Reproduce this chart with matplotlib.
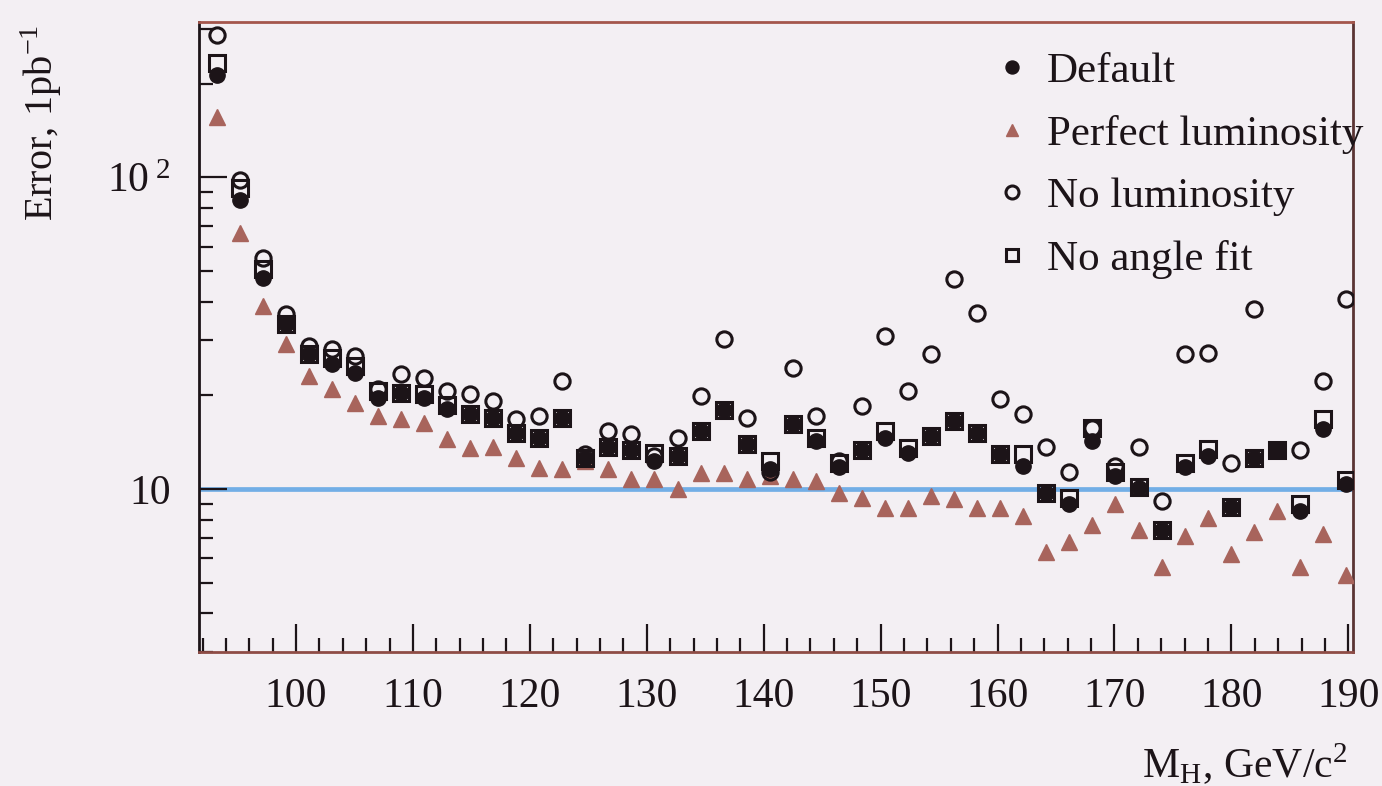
import matplotlib
matplotlib.use("Agg")
import matplotlib.pyplot as plt
import numpy as np

plt.rcParams['font.family'] = ['Liberation Serif', 'DejaVu Serif']
plt.rcParams['mathtext.fontset'] = 'stix'

# Higgs mass points (50 columns)
masses = np.linspace(93.2, 189.8, 50)

default = [213, 84.4, 47.7, 34.0, 27.2, 25.2, 23.6, 19.6, 20.4, 19.6,
           18.1, 17.5, 16.9, 15.1, 14.6, 16.9, 12.6, 13.7, 13.4, 12.3,
           12.8, 15.4, 18.0, 14.0, 11.6, 16.2, 14.3, 11.8, 13.4, 14.6,
           13.1, 14.8, 16.6, 15.1, 13.0, 11.9, 9.7, 8.95, 14.3, 11.0,
           10.1, 7.4, 11.8, 12.8, 8.8, 12.6, 13.4, 8.5, 15.6, 10.4]

perfect_lumi = [156, 66.1, 38.7, 29.2, 23.1, 21.0, 18.9, 17.2, 16.8, 16.3,
                14.5, 13.6, 13.7, 12.6, 11.7, 11.6, 12.3, 11.6, 10.8, 10.8,
                10.0, 11.3, 11.3, 10.8, 11.0, 10.8, 10.6, 9.7, 9.35, 8.7,
                8.7, 9.5, 9.3, 8.7, 8.7, 8.2, 6.3, 6.8, 7.7, 8.95,
                7.4, 5.65, 7.06, 8.07, 6.2, 7.3, 8.55, 5.65, 7.2, 5.3]

no_lumi = [286, 97.8, 55.0, 36.5, 28.8, 28.2, 26.8, 21.0, 23.4, 22.8,
           20.7, 20.2, 19.2, 16.8, 17.2, 22.2, 13.0, 15.4, 15.0, 12.8,
           14.6, 19.9, 30.3, 16.9, 11.4, 24.5, 17.2, 12.3, 18.5, 31.0,
           20.7, 27.2, 47.3, 36.8, 19.5, 17.5, 13.7, 11.4, 15.7, 11.9,
           13.7, 9.15, 27.2, 27.4, 12.1, 37.9, 13.4, 13.4, 22.2, 40.8]

no_angle = [233, 92.2, 50.9, 34.0, 27.2, 26.4, 24.8, 20.7, 20.4, 20.2,
            18.6, 17.5, 16.9, 15.1, 14.6, 16.9, 12.6, 13.7, 13.4, 13.1,
            12.8, 15.4, 18.0, 14.0, 12.3, 16.2, 14.6, 12.1, 13.4, 15.4,
            13.6, 14.8, 16.6, 15.1, 13.0, 13.0, 9.7, 9.35, 15.7, 11.4,
            10.2, 7.4, 12.1, 13.5, 8.8, 12.6, 13.4, 8.95, 16.8, 10.7]

bg = '#f3eff3'
ink = '#1c1418'
brown = '#a8645c'

fig = plt.figure(figsize=(13.82, 7.86), dpi=100, facecolor=bg)
ax = fig.add_axes([0.144, 0.170, 0.835, 0.802], facecolor=bg)

ax.axhline(10, color='#72aee6', lw=3.4, zorder=1)

ax.plot(masses, perfect_lumi, ls='none', marker='^', ms=11, color=brown,
        mec=brown, label='Perfect luminosity', zorder=3)
ax.plot(masses, no_lumi, ls='none', marker='o', ms=11, mfc='none',
        mec=ink, mew=2.2, label='No luminosity', zorder=4)
ax.plot(masses, no_angle, ls='none', marker='s', ms=11, mfc='none',
        mec=ink, mew=2.2, label='No angle fit', zorder=4)
ax.plot(masses, default, ls='none', marker='o', ms=11, color=ink,
        label='Default', zorder=5)

ax.set_yscale('log')
ax.set_ylim(3.0, 315)
ax.set_xlim(91.7, 190.4)

ax.set_xticks(np.arange(100, 191, 10))
ax.set_xticks(np.arange(92, 191, 2), minor=True)
ax.set_yticks([10, 100])
ax.set_yticklabels(['10', r'$\mathregular{10^{\ 2}}$'])
ax.tick_params(axis='both', which='major', direction='in', length=20,
               width=1.6, color=ink, labelsize=30, labelcolor=ink)
ax.tick_params(axis='both', which='minor', direction='in', length=10,
               width=1.6, color=ink)
ax.tick_params(axis='y', which='minor', labelleft=False)
ax.tick_params(axis='x', which='major', pad=18)
ax.tick_params(axis='y', which='major', pad=20)

for side, c in [('left', ink), ('top', '#a4564c'), ('bottom', '#8e4c46'),
                ('right', '#5a3434')]:
    ax.spines[side].set_color(c)
    ax.spines[side].set_linewidth(2)

handles, labels = ax.get_legend_handles_labels()
order = [3, 0, 1, 2]
leg = ax.legend([handles[k] for k in order], [labels[k] for k in order],
                loc='upper left', bbox_to_anchor=(0.690, 0.953), frameon=False,
                fontsize=31, handlelength=0.8, handletextpad=0.4,
                labelspacing=0.55, borderpad=0, borderaxespad=0,
                markerscale=0.85)
for t in leg.get_texts():
    t.set_color(ink)

fig.text(0.030, 0.968, r'Error, 1pb$^{\mathregular{-1}}$', rotation=90,
         ha='center', va='top', fontsize=29, color=ink)
fig.text(0.975, -0.002, r'M$_{\mathregular{H}}$, GeV/c$^{\mathregular{2}}$',
         ha='right', va='bottom', fontsize=30, color=ink)

fig.savefig('out.png', dpi=100, facecolor=bg)
